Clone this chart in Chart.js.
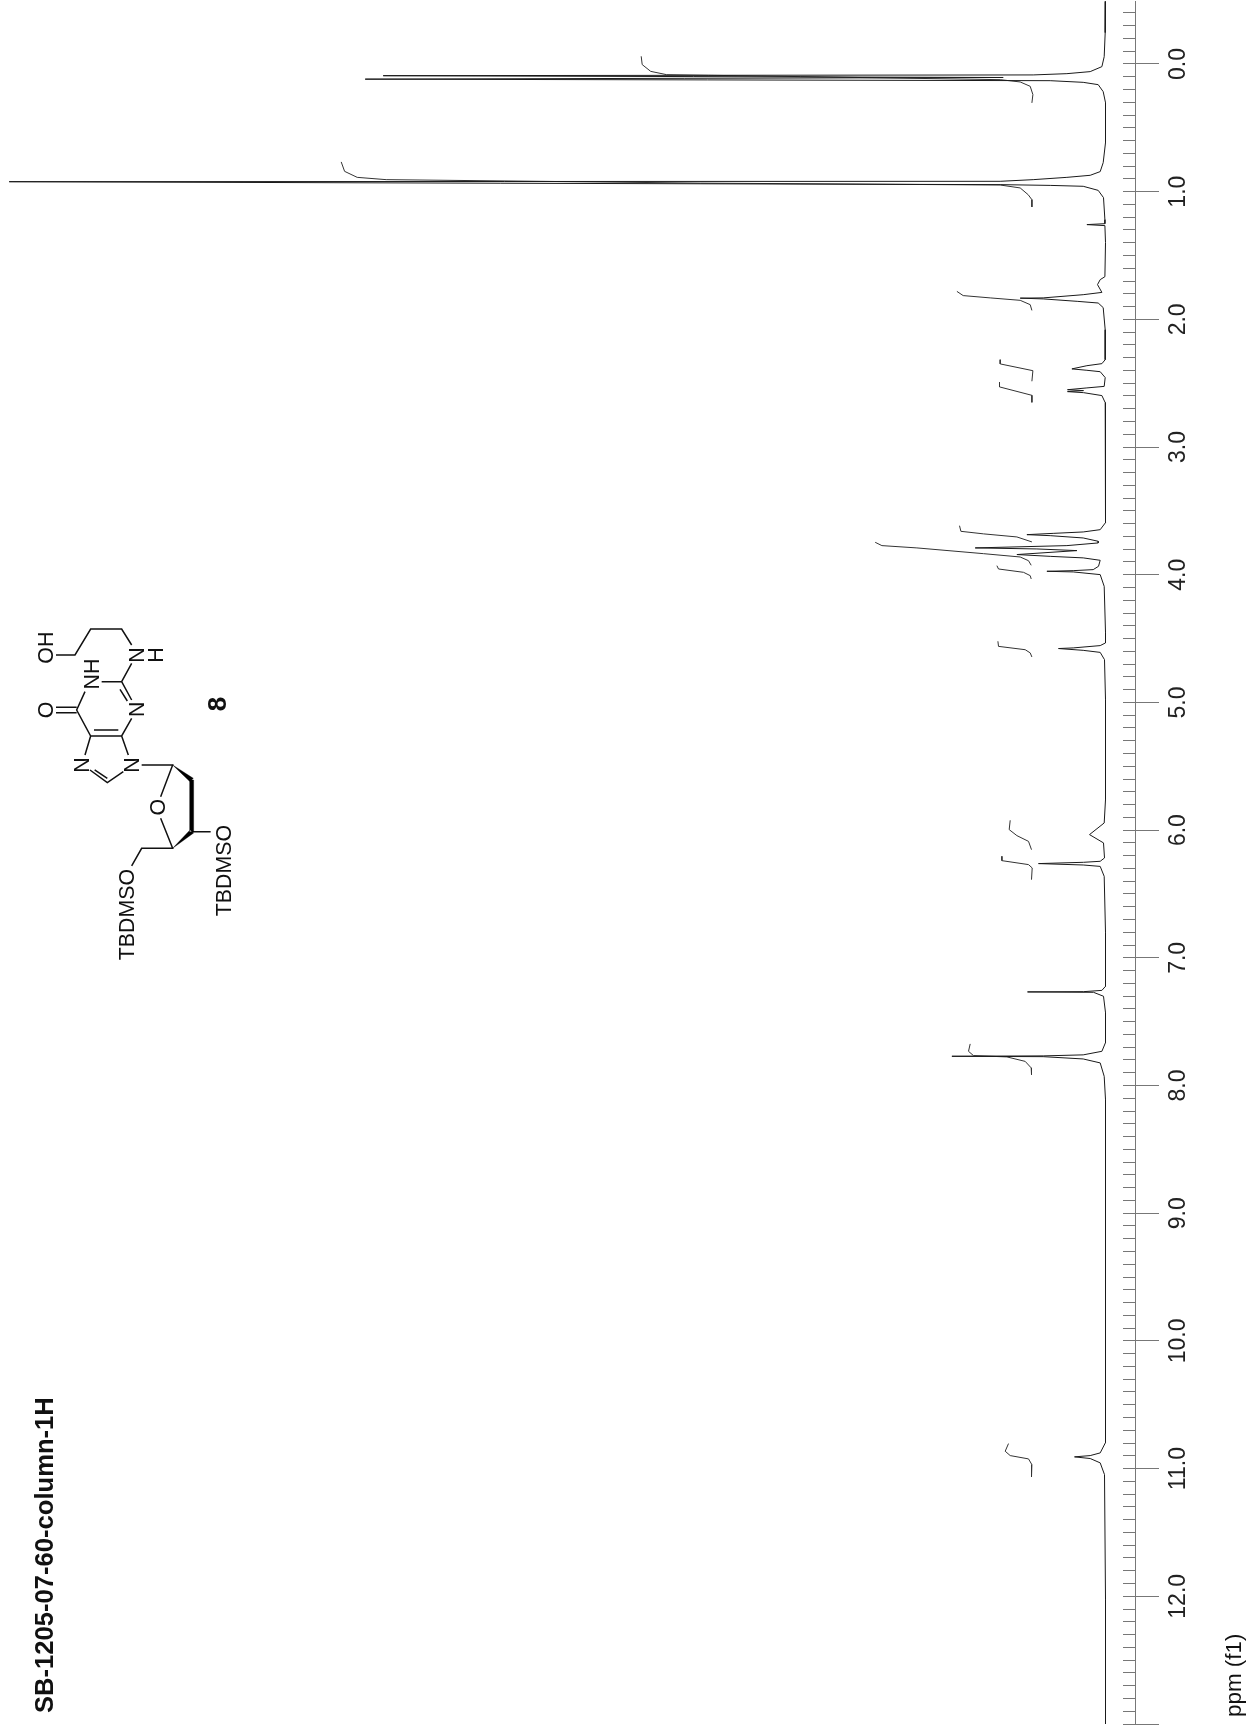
<!DOCTYPE html>
<html>
<head>
<meta charset="utf-8">
<title>SB-1205-07-60-column-1H</title>
<script src="https://cdn.jsdelivr.net/npm/chart.js@4/dist/chart.umd.min.js"></script>
<style>
  html, body { margin: 0; padding: 0; background: #fff; }
  #wrap { position: relative; width: 1253px; height: 1730px; overflow: hidden; }
  #chart { position: absolute; left: 0; top: 0; }
  #notes { position: absolute; left: 0; top: 0; pointer-events: none; }
  #notes text { font-family: "Liberation Sans", Arial, sans-serif; fill: #111; }
</style>
</head>
<body>
<div id="wrap">
<canvas id="chart" width="1253" height="1730"></canvas>
<svg id="notes" width="1253" height="1730" viewBox="0 0 1253 1730">
  <text transform="translate(53,1713) rotate(-90)" font-size="25.6" font-weight="bold">SB-1205-07-60-column-1H</text>
  <text transform="translate(1241,1717) rotate(-90)" font-size="22.4">ppm (f1)</text>
  <!-- molecule, in zoomed crop units -->
  <g transform="translate(20,600) scale(0.3333)" stroke="#111" stroke-width="4.5" fill="none">
    <path d="M108 165L165 165L212 87L305 87L335 135M305 245L335 190M305 245L245 245M305 245L335 300M300 268L322 303M335 355L305 408L212 408L170 330L195 275M295 390L222 390M170 322L108 322M170 338L108 338M212 408L195 465M305 408L325 465M210 510L262 548L310 515M224 510L262 535M365 495L458 495L422 590M422 655L458 745L365 745L335 798M515 695L572 695"/>
    <path d="M458 495L520 535L510 545Z M509 540L521 540L521 695L509 695Z M458 745L521 699L510 690Z" fill="#000" stroke="#000" stroke-width="1"/>
    <g stroke="none" font-size="64" text-anchor="middle">
      <text transform="translate(98,143) rotate(-90)">OH</text>
      <text transform="translate(372,165) rotate(-90)">N</text>
      <text transform="translate(428,165) rotate(-90)">H</text>
      <text transform="translate(238,222) rotate(-90)">NH</text>
      <text transform="translate(373,328) rotate(-90)">N</text>
      <text transform="translate(98,330) rotate(-90)">O</text>
      <text transform="translate(208,495) rotate(-90)">N</text>
      <text transform="translate(358,495) rotate(-90)">N</text>
      <text transform="translate(435,622) rotate(-90)">O</text>
      <text transform="translate(632,812) rotate(-90)">TBDMSO</text>
      <text transform="translate(343,944) rotate(-90)">TBDMSO</text>
      <text transform="translate(618,312) rotate(-90)" font-weight="bold" font-size="78">8</text>
    </g>
  </g>
</svg>
</div>
<script>
// spectrum trace, ppm against intensity
const tracePpm = [
  -0.49, -0.245, -0.057, 0.021, 0.06, 0.076, 0.086, 0.092, 0.106, 0.119, 0.131, 0.144, 0.162, 0.217, 0.303, 0.616,
  0.773, 0.843, 0.872, 0.888, 0.906, 0.919, 0.922, 0.934, 0.945, 0.951, 0.958, 0.99, 1.047, 1.219, 1.251, 1.258,
  1.266, 1.399, 1.666, 1.689, 1.728, 1.789, 1.807, 1.832, 1.834, 1.84, 1.859, 1.872, 1.908, 2.081, 2.316, 2.347,
  2.363, 2.388, 2.399, 2.41, 2.456, 2.525, 2.537, 2.551, 2.558, 2.566, 2.574, 2.597, 2.652, 2.994, 3.229, 3.412,
  3.592, 3.647, 3.665, 3.676, 3.686, 3.694, 3.712, 3.738, 3.751, 3.772, 3.79, 3.798, 3.811, 3.842, 3.856, 3.868,
  3.887, 3.934, 3.96, 3.968, 3.973, 3.978, 3.999, 4.091, 4.453, 4.534, 4.555, 4.573, 4.578, 4.592, 4.608, 4.665,
  4.978, 5.761, 5.944, 6.035, 6.1, 6.218, 6.244, 6.252, 6.262, 6.273, 6.284, 6.362, 6.803, 7.223, 7.255, 7.265,
  7.267, 7.27, 7.301, 7.429, 7.664, 7.732, 7.76, 7.768, 7.771, 7.774, 7.792, 7.823, 7.928, 8.11, 9.676, 10.796,
  10.877, 10.898, 10.908, 10.921, 10.955, 11.047, 12.025, 13
];
const traceHeight = [
  0, 0.03, 0.13, 0.36, 1.53, 3.86, 7.23, 72.23, 10.23, 74.03, 5.53, 2.23, 0.73, 0.23, 0, 0,
  0.23, 0.53, 1.53, 3.86, 7.23, 10.53, 109.63, 60.53, 10.53, 5.53, 2.23, 0.73, 0.2, 0.06, 0.06, 1.86,
  0.06, 0, 0.06, 0.53, 0.8, 0.36, 2.23, 6.23, 8.53, 6.23, 2.83, 0.73, 0.23, 0.03, 0.03, 0.36,
  1.86, 3.36, 1.86, 0.53, 0.03, 0.13, 1.86, 3.8, 2.2, 3.8, 2.2, 0.36, 0.03, 0, 0, 0,
  0, 0.53, 2.23, 5.23, 7.86, 5.53, 2.23, 0.73, 0.73, 3.86, 13.03, 6.86, 2.86, 8.86, 5.53, 2.23,
  0.53, 0.7, 1.23, 3.23, 5.86, 3.23, 0.53, 0.13, 0, 0, 0.53, 3.23, 4.7, 2.23, 0.53, 0.1,
  0, 0, 0.13, 1.6, 0.2, 0.1, 0.53, 2.2, 6.7, 2.23, 0.53, 0.13, 0, 0, 0.36, 2.2,
  7.8, 1.2, 0.2, 0, 0, 0.36, 2.23, 6.23, 15.36, 6.23, 2.23, 0.53, 0.13, 0, 0, 0,
  0.53, 1.53, 3.1, 1.53, 0.53, 0.1, 0, 0
];

// integral curves, null marks the break between two of them
const integralPpm = [
  -0.06, 0.005, 0.058, 0.084, 0.099, 0.123, 0.141, 0.175, 0.24, 0.305, null,
  0.767, 0.841, 0.888, 0.906, 0.933, 0.948, 0.971, 1.024, 1.063, 1.12, null,
  1.781, 1.814, 1.832, 1.851, 1.885, 1.93, null,
  2.316, 2.349, 2.402, 2.485, null,
  2.493, 2.529, 2.595, 2.65, null,
  3.616, 3.66, 3.68, 3.704, 3.743, null,
  3.746, 3.772, 3.79, 3.835, 3.861, 3.89, 3.926, null,
  3.929, 3.955, 3.981, 4.007, 4.033, null,
  4.521, 4.561, 4.587, 4.612, 4.644, null,
  5.923, 5.996, 6.043, 6.088, 6.153, null,
  6.205, 6.239, 6.27, 6.296, 6.388, null,
  7.674, 7.732, 7.766, 7.776, 7.811, 7.862, 7.915, null,
  10.804, 10.864, 10.898, 10.924, 10.969, 11.065
];
const integralHeight = [
  46.43, 46.33, 45.48, 43.88, 30.53, 10.53, 8.53, 7.53, 7.26, 7.36, null,
  76.43, 76.09, 74.83, 71.93, 40.53, 10.53, 8.53, 7.73, 7.36, 7.36, null,
  14.86, 14.23, 11.53, 8.53, 7.53, 7.36, null,
  10.53, 10.53, 7.26, 7.36, null,
  10.6, 10.6, 7.36, 7.36, null,
  14.6, 14.46, 12.2, 8.86, 7.36, null,
  23.03, 22.36, 18.86, 12.2, 8.53, 7.7, 7.43, null,
  10.86, 10.7, 8.2, 7.53, 7.43, null,
  10.76, 10.7, 8.03, 7.53, 7.36, null,
  9.53, 9.63, 8.86, 7.7, 7.4, null,
  10.36, 10.36, 7.7, 7.33, 7.4, null,
  13.53, 13.7, 13.2, 9.86, 8.03, 7.43, 7.4, null,
  9.7, 10.03, 9.53, 7.7, 7.36, 7.4
];

const ppmMin = -0.493;
const ppmMax = 13;
const heightMin = -2.95;
const heightMax = 110.55;

const toPoints = (ys, xs) => ys.map((y, i) => ({ x: xs[i], y: y }));

new Chart(document.getElementById("chart"), {
  type: "scatter",
  data: {
    datasets: [
      {
        label: "spectrum",
        data: toPoints(tracePpm, traceHeight),
        showLine: true,
        borderColor: "#1a1a1a",
        borderWidth: 1,
        pointRadius: 0,
        tension: 0
      },
      {
        label: "integrals",
        data: toPoints(integralPpm, integralHeight),
        showLine: true,
        spanGaps: false,
        borderColor: "#333",
        borderWidth: 1,
        pointRadius: 0,
        tension: 0
      }
    ]
  },
  options: {
    responsive: false,
    animation: false,
    layout: { padding: { top: 1, bottom: 6, left: 0, right: 0 } },
    plugins: { legend: { display: false }, title: { display: false }, tooltip: { enabled: false } },
    scales: {
      x: { type: "linear", display: false, reverse: true, min: heightMin, max: heightMax },
      y: {
        type: "linear",
        position: "right",
        reverse: true,
        min: ppmMin,
        max: ppmMax,
        // labels are rotated, no need for room above and below the axis
        afterFit: s => { s.width = 118; s.paddingTop = 0; s.paddingBottom = 0; },
        border: { display: true, color: "#777", width: 1 },
        grid: { drawOnChartArea: false, tickLength: 24, tickColor: "#777" },
        ticks: {
          stepSize: 1,
          includeBounds: false,
          autoSkip: false,
          minRotation: 90,
          maxRotation: 90,
          crossAlign: "center",
          padding: -3,
          color: "#222",
          font: { family: "'Liberation Sans', Arial, sans-serif", size: 23 },
          callback: v => (v === 13 ? "" : v.toFixed(1))
        }
      },
      // the 0.1 ppm ticks, shorter, on the same line
      yMinor: {
        type: "linear",
        axis: "y",
        position: { x: heightMin },
        reverse: true,
        min: ppmMin,
        max: ppmMax,
        border: { display: false },
        grid: { drawOnChartArea: false, tickLength: 12, tickColor: "#777" },
        ticks: { display: false, stepSize: 0.1, includeBounds: false, autoSkip: false }
      }
    }
  }
});
</script>
</body>
</html>
